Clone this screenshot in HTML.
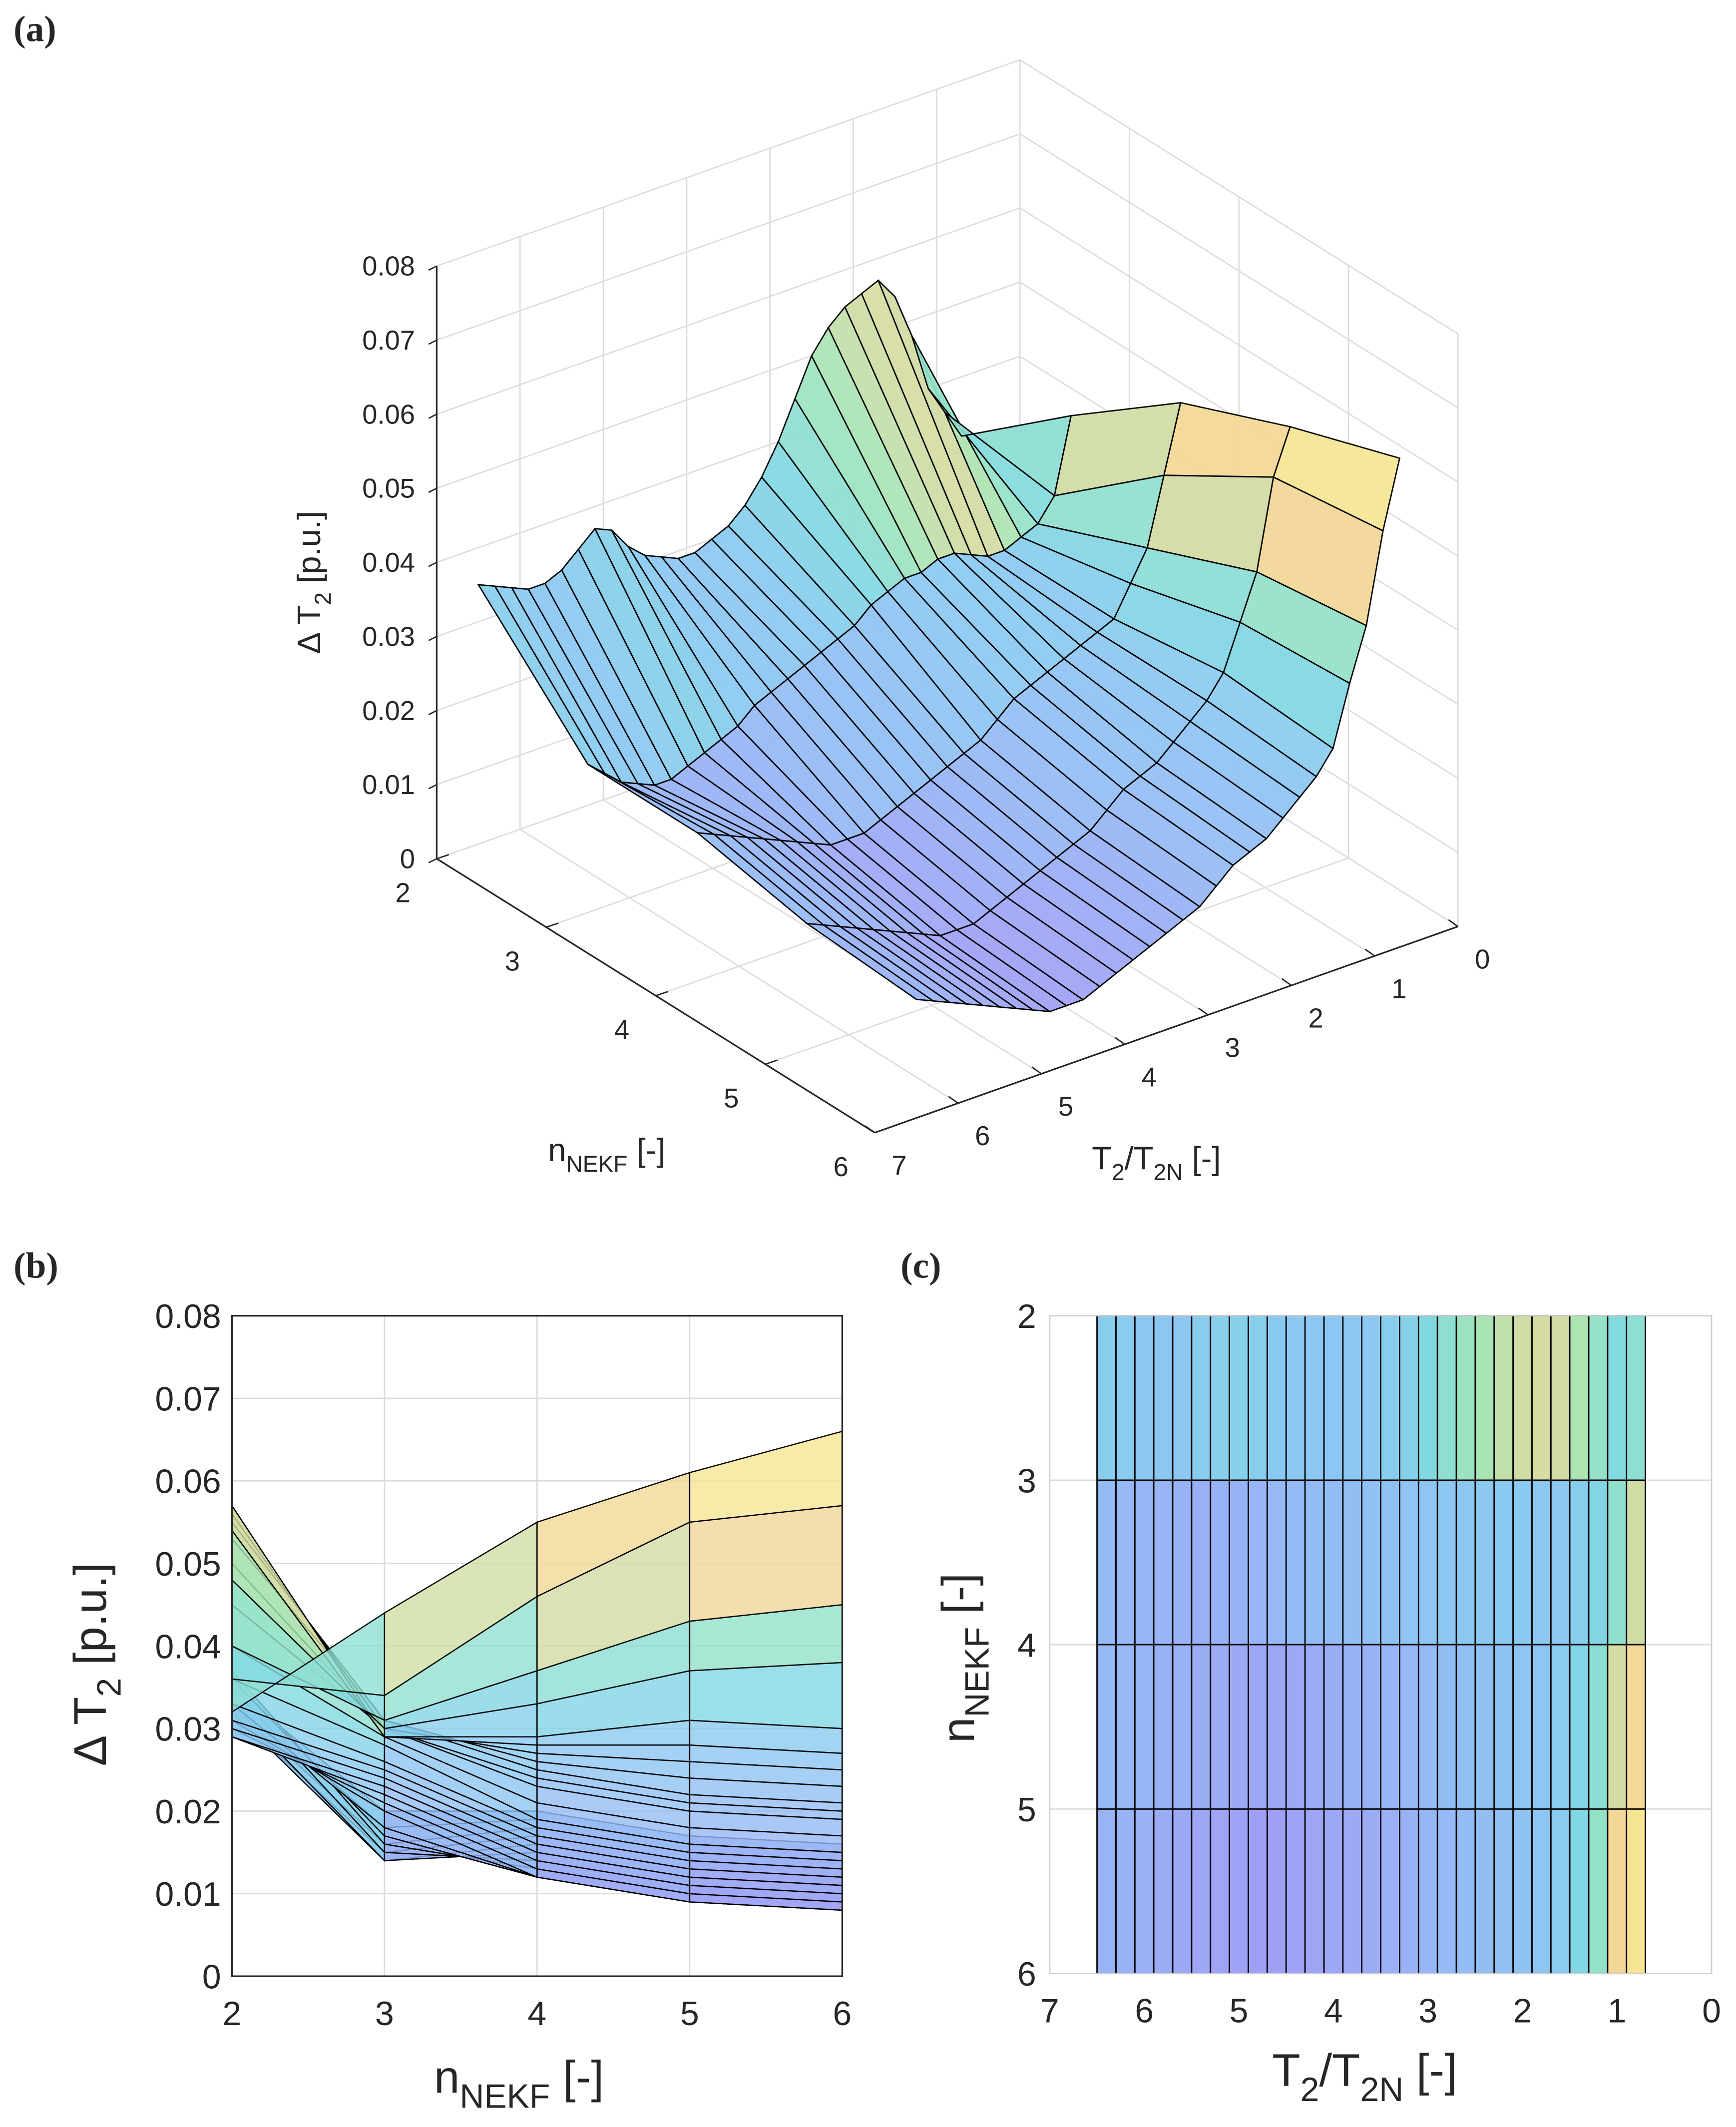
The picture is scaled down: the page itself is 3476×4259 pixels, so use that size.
<!DOCTYPE html>
<html><head><meta charset="utf-8"><style>
html,body{margin:0;padding:0;background:#fff}
svg{display:block}
text{font-family:"Liberation Sans",sans-serif;fill:#262626}
</style></head><body>
<svg id="fig" width="3476" height="4259" viewBox="0 0 1280 1568" xmlns="http://www.w3.org/2000/svg">
<g id="ga"></g>
<g id="gb"></g>
<g id="gc"></g>
<text x="10" y="30" font-size="27" font-weight="bold" style="font-family:'Liberation Serif',serif">(a)</text>
<text x="10" y="942" font-size="27" font-weight="bold" style="font-family:'Liberation Serif',serif">(b)</text>
<text x="664" y="942" font-size="27" font-weight="bold" style="font-family:'Liberation Serif',serif">(c)</text>
</svg>
<script>
const nVals=[2,3,4,5,6];
const tVals=[0.7,0.9,1.1,1.3,1.5,1.7,1.9,2.1,2.3,2.5,2.7,2.9,3.1,3.3,3.5,3.7,3.9,4.1,4.3,4.5,4.7,4.9,5.1,5.3,5.5,5.7,5.9,6.1,6.3,6.5];
const zN2=[0.032,0.036,0.040,0.048,0.054,0.057,0.056,0.055,0.053,0.050,0.045,0.040,0.036,0.033,0.031,0.030,0.029,0.029,0.030,0.031,0.033,0.036,0.037,0.035,0.033,0.032,0.032,0.033,0.034,0.035];
const zN3=[0.044,0.034,0.031,0.030,0.029,0.029,0.030,0.031,0.031,0.030,0.030,0.029,0.028,0.026,0.025,0.024,0.023,0.022,0.021,0.020,0.018,0.017,0.016,0.015,0.014,0.014,0.015,0.016,0.018,0.020];
const zN4=[0.055,0.046,0.037,0.033,0.029,0.028,0.027,0.026,0.025,0.024,0.023,0.021,0.019,0.018,0.017,0.016,0.015,0.014,0.013,0.012,0.012,0.012,0.013,0.014,0.015,0.016,0.017,0.018,0.019,0.020];
const zN5=[0.061,0.055,0.043,0.037,0.031,0.028,0.026,0.024,0.022,0.021,0.020,0.018,0.016,0.015,0.014,0.013,0.012,0.011,0.010,0.009,0.009,0.009,0.010,0.011,0.012,0.013,0.014,0.015,0.016,0.017];
const zN6=[0.066,0.057,0.045,0.038,0.030,0.027,0.025,0.023,0.021,0.020,0.019,0.017,0.015,0.014,0.013,0.012,0.011,0.010,0.009,0.008,0.008,0.008,0.009,0.010,0.011,0.012,0.013,0.014,0.015,0.016];
const zTicks=[0,0.01,0.02,0.03,0.04,0.05,0.06,0.07,0.08];
const zTickLabels=["0","0.01","0.02","0.03","0.04","0.05","0.06","0.07","0.08"];
const nTicks=[2,3,4,5,6];
const tTicks=[0,1,2,3,4,5,6,7];

const Z=[zN2,zN3,zN4,zN5,zN6];
const NS="http://www.w3.org/2000/svg";
function mk(tag,attrs,parent){const e=document.createElementNS(NS,tag);for(const k in attrs)e.setAttribute(k,attrs[k]);parent.appendChild(e);return e;}
let zmin=Infinity,zmax=-Infinity;Z.forEach(r=>r.forEach(v=>{zmin=Math.min(zmin,v);zmax=Math.max(zmax,v);}));
const stops=[[0,[160,158,245]],[0.18,[150,185,245]],[0.36,[140,200,242]],[0.5,[128,216,226]],[0.62,[150,226,200]],[0.7,[172,228,178]],[0.78,[243,214,152]],[0.88,[243,216,150]],[1,[248,236,146]]];
function col(v){let f=(v-zmin)/(zmax-zmin);f=Math.max(0,Math.min(1,f));for(let i=1;i<stops.length;i++){if(f<=stops[i][0]){const a=stops[i-1],b=stops[i];const t=(f-a[0])/(b[0]-a[0]);const c=a[1].map((x,k)=>Math.round(x+(b[1][k]-x)*t));return `rgb(${c})`;}}return 'rgb(248,236,146)';}
function cellVal(i,j){return Math.max(Z[i][j],Z[i+1][j],Z[i+1][j+1],Z[i][j+1])*0.6+(Z[i][j]+Z[i+1][j]+Z[i+1][j+1]+Z[i][j+1])/4*0.4;}
const GRID='#dcdcdc',AX='#262626';

// ---------- Panel A ----------
const ga=document.getElementById('ga');
function P(n,T,z){return [322+(n-2)/4*323+(7-T)/7*430, 633+(n-2)/4*202-(7-T)/7*152-z/0.08*437];}
function line(g,a,b,st,w){return mk('line',{x1:a[0],y1:a[1],x2:b[0],y2:b[1],stroke:st,'stroke-width':w||1},g);}
zTicks.forEach(z=>{const l=line(ga,P(2,7,z),P(2,0,z),GRID);
 const l2=line(ga,P(2,0,z),P(6,0,z),GRID);});
tTicks.forEach(t=>{const l=line(ga,P(2,t,0),P(2,t,0.08),GRID);
 const l2=line(ga,P(2,t,0),P(6,t,0),GRID);});
nTicks.forEach(n=>{const l=line(ga,P(n,0,0),P(n,0,0.08),GRID);
 const l2=line(ga,P(n,7,0),P(n,0,0),GRID);});
[[P(2,7,0),P(2,7,0.08)],[P(2,7,0),P(6,7,0)],[P(6,7,0),P(6,0,0)]].forEach(s=>{const l=line(ga,s[0],s[1],AX,1.2);});
zTicks.forEach((z,i)=>{const p=P(2,7,z);line(ga,p,[p[0]-6,p[1]+3],AX);const t=mk('text',{x:p[0]-16,y:p[1]+7,'font-size':20,'text-anchor':'end'},ga);t.textContent=zTickLabels[i];
 });
nTicks.forEach(n=>{const p=P(n,7,0);line(ga,p,[p[0]+9,p[1]-3],AX);const t=mk('text',{x:p[0]-25,y:p[1]+32,'font-size':20,'text-anchor':'middle'},ga);t.textContent=n;
 });
tTicks.forEach(tv=>{const p=P(6,tv,0);line(ga,p,[p[0]-7,p[1]-5],AX);const t=mk('text',{x:p[0]+18,y:p[1]+31,'font-size':20,'text-anchor':'middle'},ga);t.textContent=tv;
 });
const cells=[];
for(let i=0;i<nVals.length-1;i++)for(let j=0;j<tVals.length-1;j++){
 const d=((nVals[i]+nVals[i+1])/2-2)/4+(7-(tVals[j]+tVals[j+1])/2)/7;cells.push([d,i,j]);}
cells.sort((a,b)=>a[0]-b[0]);
cells.forEach(([d,i,j])=>{
 const pts=[P(nVals[i],tVals[j],Z[i][j]),P(nVals[i+1],tVals[j],Z[i+1][j]),P(nVals[i+1],tVals[j+1],Z[i+1][j+1]),P(nVals[i],tVals[j+1],Z[i][j+1])];
 const pg=mk('polygon',{points:pts.map(p=>p.join(',')).join(' '),fill:col(cellVal(i,j)),'fill-opacity':0.93,stroke:'#000','stroke-width':1},ga);
 
 
});
{let t=mk('text',{x:0,y:0,'font-size':24,transform:'translate(236,482) rotate(-90)'},ga);t.innerHTML='Δ T<tspan dy="8" font-size="17">2</tspan><tspan dy="-8"> [p.u.]</tspan>';
 
 t=mk('text',{x:404,y:856,'font-size':24},ga);t.innerHTML='n<tspan dy="8" font-size="17">NEKF</tspan><tspan dy="-8"> [-]</tspan>';
 
 t=mk('text',{x:805,y:862,'font-size':24},ga);t.innerHTML='T<tspan dy="8" font-size="17">2</tspan><tspan dy="-8">/T</tspan><tspan dy="8" font-size="17">2N</tspan><tspan dy="-8"> [-]</tspan>';
 }

// ---------- Panel B ----------
const gb=document.getElementById('gb');
const bx0=171,bx1=621,by0=1457,by1=970;
const bX=n=>bx0+(n-2)/4*(bx1-bx0), bY=z=>by0-z/0.08*(by0-by1);
nTicks.forEach(n=>{const l=line(gb,[bX(n),by0],[bX(n),by1],GRID);
 const t=mk('text',{x:bX(n),y:by0+36,'font-size':25,'text-anchor':'middle'},gb);t.textContent=n;});
zTicks.forEach((z,i)=>{const l=line(gb,[bx0,bY(z)],[bx1,bY(z)],GRID);
 const t=mk('text',{x:bx0-8,y:bY(z)+9,'font-size':25,'text-anchor':'end'},gb);t.textContent=zTickLabels[i];});
for(let j=tVals.length-2;j>=0;j--)for(let i=0;i<nVals.length-1;i++){
 const pts=[[bX(nVals[i]),bY(Z[i][j])],[bX(nVals[i+1]),bY(Z[i+1][j])],[bX(nVals[i+1]),bY(Z[i+1][j+1])],[bX(nVals[i]),bY(Z[i][j+1])]];
 const pg=mk('polygon',{points:pts.map(p=>p.join(',')).join(' '),fill:col(cellVal(i,j)),'fill-opacity':0.8,stroke:'#000','stroke-width':0.9},gb);
 
 
}
{const r=mk('rect',{x:bx0,y:by1,width:bx1-bx0,height:by0-by1,fill:'none',stroke:AX,'stroke-width':1.2},gb);
 let t=mk('text',{x:0,y:0,'font-size':34,transform:'translate(78,1302) rotate(-90)'},gb);t.innerHTML='Δ T<tspan dy="11" font-size="25">2</tspan><tspan dy="-11"> [p.u.]</tspan>';
 
 t=mk('text',{x:320,y:1543,'font-size':34},gb);t.innerHTML='n<tspan dy="11" font-size="25">NEKF</tspan><tspan dy="-11"> [-]</tspan>';
 }

// ---------- Panel C ----------
const gc=document.getElementById('gc');
const cx0=774,cx1=1262,cy0=970,cy1=1455;
const cX=T=>cx0+(7-T)/7*(cx1-cx0), cY=n=>cy0+(n-2)/4*(cy1-cy0);
tTicks.forEach(T=>{const l=line(gc,[cX(T),cy0],[cX(T),cy1],GRID);
 const t=mk('text',{x:cX(T),y:cy1+36,'font-size':25,'text-anchor':'middle'},gc);t.textContent=T;});
nTicks.forEach(n=>{const l=line(gc,[cx0,cY(n)],[cx1,cY(n)],GRID);
 const t=mk('text',{x:cx0-10,y:cY(n)+9,'font-size':25,'text-anchor':'end'},gc);t.textContent=n;});
for(let i=0;i<nVals.length-1;i++)for(let j=0;j<tVals.length-1;j++){
 const xa=cX(tVals[j+1]),xb=cX(tVals[j]);
 const r=mk('rect',{x:xa,y:cY(nVals[i]),width:xb-xa,height:cY(nVals[i+1])-cY(nVals[i]),fill:col(cellVal(i,j)),stroke:'#000','stroke-width':1},gc);
 
 
}
{const r=mk('rect',{x:cx0,y:cy0,width:cx1-cx0,height:cy1-cy0,fill:'none',stroke:'#cfcfcf','stroke-width':1},gc);
 let t=mk('text',{x:0,y:0,'font-size':34,transform:'translate(718,1285) rotate(-90)'},gc);t.innerHTML='n<tspan dy="11" font-size="25">NEKF</tspan><tspan dy="-11"> [-]</tspan>';
 
 t=mk('text',{x:938,y:1538,'font-size':34},gc);t.innerHTML='T<tspan dy="11" font-size="25">2</tspan><tspan dy="-11">/T</tspan><tspan dy="11" font-size="25">2N</tspan><tspan dy="-11"> [-]</tspan>';
 }
</script>
</body></html>
